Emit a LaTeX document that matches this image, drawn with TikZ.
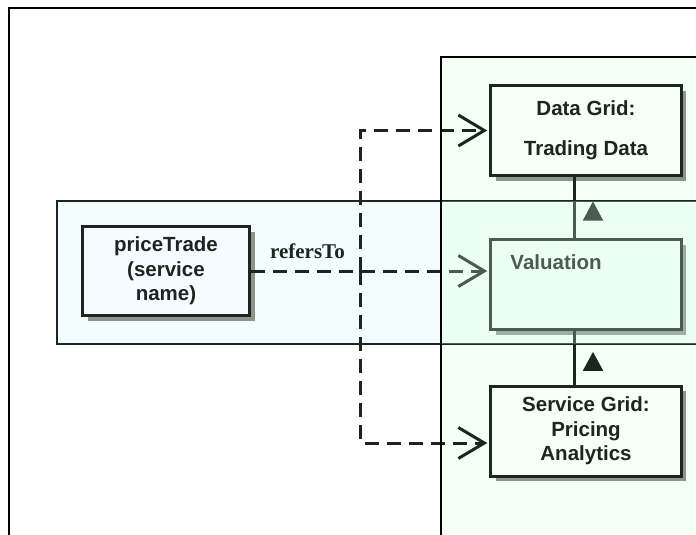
\documentclass[tikz,border=0pt]{standalone}
\usepackage{fontspec}
\setmainfont{Liberation Serif}
\newfontfamily\boxfont{Liberation Sans}
\usetikzlibrary{positioning,shadows,arrows.meta}

\definecolor{inkdark}{RGB}{30,36,32}
\definecolor{shadowgray}{RGB}{140,148,142}
\definecolor{panelgreen}{RGB}{244,255,246}
\definecolor{bandcyan}{RGB}{244,253,253}
\definecolor{boxgreen}{RGB}{246,255,247}
\definecolor{boxcyan}{RGB}{244,252,255}
\definecolor{veilgreen}{RGB}{210,255,232}

\begin{document}
\begin{tikzpicture}[x=1pt, y=-1pt,
        gridbox/.style={draw=inkdark, line width=3pt, fill=boxgreen, text=inkdark, minimum width=190.5pt, minimum height=90pt, align=center, font=\boxfont\bfseries\fontsize{20.5}{24.5}\selectfont, drop shadow={shadow xshift=5pt, shadow yshift=-5pt, fill=shadowgray, opacity=1}},
        svcbox/.style={gridbox, fill=boxcyan, minimum width=167pt, minimum height=89pt},
        vallabel/.style={anchor=base west, inner sep=0pt, text=inkdark, font=\boxfont\bfseries\fontsize{20.5}{24.5}\selectfont},
        lbl/.style={anchor=base, inner sep=0pt, text=inkdark, font=\bfseries\fontsize{21}{24}\selectfont},
        refline/.style={draw=inkdark, line width=3pt, dash pattern=on 14pt off 8pt, shorten >=2pt, -{Straight Barb[length=26pt, width=31pt, line width=3pt]}},
        flow/.style={draw=inkdark, line width=2.7pt}
    ]
    \useasboundingbox (0,0) rectangle (696,535);
    \clip (0,0) rectangle (696,535);
    \fill[white] (0,0) rectangle (696,535);

    % --- Frame, band and panel ---
    \draw[black, line width=2pt] (8.5,8) rectangle (720,560);
    \fill[bandcyan] (57,201) rectangle (720,344);
    \fill[panelgreen] (441,57) rectangle (720,560);

    % --- Grid nodes ---
    \node[gridbox] (dg) at (586,130.5) {Data Grid:\\[15.5pt]Trading Data};
    \node[gridbox, below=61pt of dg] (val) {};
    \node[gridbox, below=53.5pt of val] (sg) {Service Grid:\\Pricing\\Analytics};
    \node[vallabel] (vallbl) at ([shift={(21,31)}]val.north west) {Valuation};

    % --- Service node ---
    \node[svcbox] (pt) at (166,271) {priceTrade\\(service\\name)};

    % --- Connections ---
    \coordinate (up1) at (574.3,0 |- val.north);
    \draw[flow] (up1) -- (up1 |- dg.south);
    \fill[inkdark] ([shift={(8.4,-17.3)}]up1) -- ++(20.6,0) -- ++(-10.3,-19.3) -- cycle;
    \coordinate (up2) at (574.3,0 |- sg.north);
    \draw[flow] (up2) -- (up2 |- val.south);
    \fill[inkdark] ([shift={(8.4,-13.6)}]up2) -- ++(20.6,0) -- ++(-10.3,-19) -- cycle;

    \draw[refline] (pt.east) -- node[lbl, pos=0.237, yshift=13pt] (rt) {refersTo} (val.west |- pt.east);
    \coordinate (j) at (360.7,0 |- pt.east);
    \draw[refline] (j) |- (dg.west);
    \draw[refline] (j) |- ([yshift=-12pt]sg.west);

    % band border, then veil where band lies on panel
    \draw[inkdark, line width=2pt] (57,201) rectangle (720,344);
    \fill[veilgreen, fill opacity=0.25] (441,201) rectangle (720,344);
    \draw[black, line width=2pt] (441,57) rectangle (720,560);

\end{tikzpicture}
\end{document}
